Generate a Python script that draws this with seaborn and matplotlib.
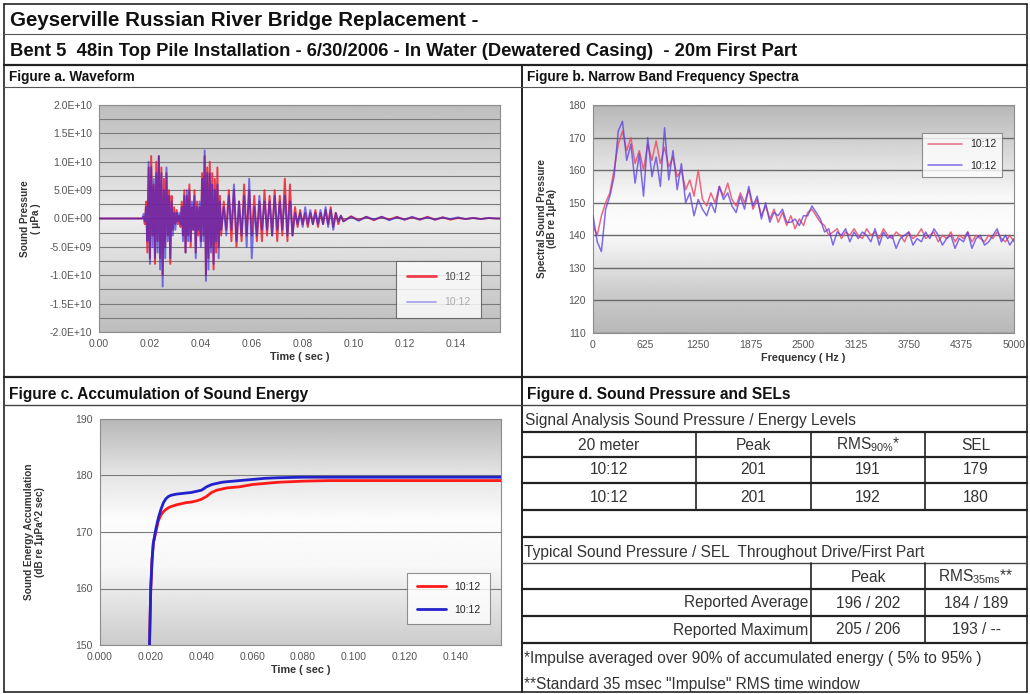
import numpy as np
import matplotlib
matplotlib.use('Agg')
import matplotlib.pyplot as plt
from matplotlib.lines import Line2D
from matplotlib.ticker import FixedLocator
import seaborn as sns

# --- Data -------------------------------------------------------------------
# Figure a: waveform (time in ms, pressure in 1e9 uPa)
WAVE_T_MS = [0.0, 15.0, 17.0, 17.5, 18.0, 18.5, 19.0, 19.5, 20.0, 20.5, 21.0, 21.5,
             22.0, 22.5, 23.0, 23.5, 24.0, 24.5, 25.0, 25.5, 26.0, 26.5, 27.0, 27.5,
             28.0, 28.5, 29.0, 29.5, 30.0, 30.5, 31.0, 31.5, 32.0, 32.5, 33.0, 33.5,
             34.0, 34.5, 35.0, 35.5, 36.0, 36.5, 37.0, 37.5, 38.0, 38.5, 39.0, 39.5,
             40.0, 40.5, 41.0, 41.5, 42.0, 42.5, 43.0, 43.5, 44.0, 44.5, 45.0, 45.5,
             46.0, 46.5, 47.0, 47.5, 48.0, 49.0, 50.0, 51.0, 52.0, 53.0, 54.0, 55.0,
             56.0, 57.0, 58.0, 59.0, 60.0, 61.0, 62.0, 63.0, 64.0, 65.0, 66.0, 67.0,
             68.0, 69.0, 70.0, 71.0, 72.0, 73.0, 74.0, 75.0, 76.0, 77.0, 78.0, 79.0,
             80.0, 81.0, 82.0, 83.0, 84.0, 85.0, 86.0, 87.0, 88.0, 89.0, 90.0, 91.0,
             92.0, 93.0, 94.0, 95.0, 96.0, 99.0, 102.0, 105.0, 108.0, 111.0, 114.0,
             117.0, 120.0, 123.0, 126.0, 129.0, 132.0, 135.0, 138.0, 141.0, 144.0,
             147.0, 150.0, 153.0, 156.0, 158.0]
WAVE_RED = [0, 0, 0, 0.3, -1, 3, -6, 9, -7, 11, -3, 6,
            -8, 10, -4, 11, -7, 9, -10, 7, -5, 8, -3, 5,
            -8, 4, -2, 2, -1, 1.5, -1, 0.5, -1.5, 3, -3, 5,
            -6, 4, -3, 6, -5, 2, -2, 5, -6, 3, -3, 2,
            -4, 8, -3, 11, -10, 9, -7, 10, -5, 8, -9, 7,
            -6, 9, -5, 4, -3, 3, -2, 5, -4, 5, -5, 3,
            -4, 6, -3, 5, -3, 4, -4, 3, -4, 5, -3, 4,
            -3, 5, -4, 4, -3, 7, -4, 6, -3, 2, -1.5, 1.5,
            -1, 1, -1.5, 1, -1, 1.5, -1.5, 1, -1, 1.5, -1, 2,
            -1.5, 1, -1, 0.5, -0.5, 0.4, -0.3, 0.3, -0.3, 0.3, -0.2,
            0.3, -0.2, 0.2, -0.2, 0.3, -0.2, 0.2, -0.2, 0.1, -0.1,
            0.1, -0.1, 0.1, 0, 0]
WAVE_BLUE = [0, 0, 0, 0.8, -0.5, 2, -4, 10, -8, 9, -5, 7,
             -7, 8, -6, 11, -9, 8, -12, 5, -7, 9, -4, 4,
             -7, 3, -3, 1, -2, 1, -0.5, 1, -1, 2, -4, 4,
             -6, 5, -4, 5, -4, 3, -2, 4, -7, 2, -2, 3,
             -5, 7, -4, 12, -11, 8, -9, 8, -6, 6, -8, 5,
             -4, 6, -7, 3, -2, 2, -3, 4, -2, 6, -4, 3,
             -3, 4, -5, 7, -7, 2, -3, 4, -2, 3, -2, 3,
             -3, 4, -2, 3, -2, 4, -3, 3, -3, 1, -1, 1,
             -1.5, 2, -1, 1.5, -1, 1, -1, 1.5, -1, 2, -1.5, 1.5,
             -2, 1, -0.5, 0.5, -0.5, 0.3, -0.4, 0.3, -0.2, 0.3, -0.3,
             0.2, -0.2, 0.3, -0.2, 0.2, -0.2, 0.2, -0.1, 0.2, -0.1,
             0.1, -0.1, 0.1, 0, 0]

# Figure b: narrow band spectra (Hz, dB re 1uPa)
FREQ_HZ = [0, 50, 100, 150, 200, 250, 300, 350, 400, 450, 500, 550, 600, 650,
           700, 750, 800, 850, 900, 950, 1000, 1050, 1100, 1150, 1200, 1250,
           1300, 1350, 1400, 1450, 1500, 1550, 1600, 1650, 1700, 1750, 1800,
           1850, 1900, 1950, 2000, 2050, 2100, 2150, 2200, 2250, 2300, 2350,
           2400, 2450, 2500, 2550, 2600, 2650, 2700, 2750, 2800, 2850, 2900,
           2950, 3000, 3050, 3100, 3150, 3200, 3250, 3300, 3350, 3400, 3450,
           3500, 3550, 3600, 3650, 3700, 3750, 3800, 3850, 3900, 3950, 4000,
           4050, 4100, 4150, 4200, 4250, 4300, 4350, 4400, 4450, 4500, 4550,
           4600, 4650, 4700, 4750, 4800, 4850, 4900, 4950, 5000]
SPEC_RED = [143, 140, 146, 150, 153, 160, 168, 172, 166, 170, 162, 166, 160, 168,
            163, 169, 162, 167, 161, 164, 158, 160, 154, 157, 152, 160,
            151, 149, 153, 150, 155, 152, 156, 151, 149, 153, 150,
            154, 148, 151, 146, 149, 145, 148, 144, 147, 143, 146,
            142, 145, 143, 147, 148, 146, 144, 143, 140, 141, 142,
            139, 141, 140, 142, 140, 139, 142, 140, 141, 139, 142,
            140, 139, 141, 140, 138, 141, 139, 140, 142, 139, 140,
            141, 138, 140, 139, 141, 138, 140, 139, 141, 138, 140,
            139, 138, 140, 139, 141, 139, 138, 140, 138]
SPEC_BLUE = [146, 138, 135, 148, 152, 158, 172, 175, 163, 168, 156, 165, 152, 170,
             158, 164, 155, 173, 157, 166, 154, 162, 150, 153, 146, 151,
             148, 146, 150, 147, 155, 151, 153, 149, 147, 152, 148,
             155, 149, 152, 145, 150, 144, 147, 146, 148, 144, 144,
             145, 143, 146, 146, 149, 147, 145, 141, 142, 137, 141,
             140, 142, 138, 141, 139, 141, 140, 138, 142, 137, 141,
             139, 140, 136, 139, 140, 141, 137, 139, 138, 141, 139,
             142, 140, 137, 139, 140, 136, 139, 138, 141, 136, 139,
             140, 137, 138, 140, 142, 138, 140, 137, 139]

# Figure c: accumulated sound energy (s, dB re 1uPa^2 sec)
ACC_T = [0.0190, 0.0195, 0.0200, 0.0205, 0.0210, 0.0220, 0.0230, 0.0240, 0.0250,
         0.0260, 0.0270, 0.0280, 0.0300, 0.0320, 0.0340, 0.0360, 0.0380, 0.0400,
         0.0420, 0.0440, 0.0460, 0.0480, 0.0500, 0.0550, 0.0600, 0.0650, 0.0700,
         0.0800, 0.0900, 0.1000, 0.1200, 0.1400, 0.1580]
ACC_RED = [140, 150, 160, 165, 168, 170, 172, 173, 173.6, 174.0, 174.3, 174.5,
           174.8, 175.0, 175.2, 175.3, 175.5, 175.8, 176.3, 177.0, 177.4, 177.6,
           177.8, 178.0, 178.4, 178.6, 178.8, 179.0, 179.1, 179.1, 179.1, 179.1, 179.1]
ACC_BLUE = [140, 150, 160, 165, 168, 170.5, 172.5, 174.0, 175.2, 175.9, 176.3, 176.5,
            176.7, 176.8, 176.9, 177.0, 177.2, 177.4, 178.0, 178.4, 178.6, 178.8,
            178.9, 179.1, 179.3, 179.5, 179.6, 179.7, 179.7, 179.7, 179.7, 179.7, 179.7]

SERIES_LABELS = ['10:12', '10:12']

# Figure d: tables
TABLE1_HEAD = ['20 meter', 'Peak', r'RMS$_{\mathregular{90\%}}$*', 'SEL']
TABLE1_ROWS = [['10:12', '201', '191', '179'],
               ['10:12', '201', '192', '180']]
TABLE2_HEAD = ['', '', 'Peak', r'RMS$_{\mathregular{35ms}}$**']
TABLE2_ROWS = [['Reported Average', '196 / 202', '184 / 189'],
               ['Reported Maximum', '205 / 206', '193 / --']]

# --- Style ------------------------------------------------------------------
sns.set_style('white')
plt.rcParams['font.family'] = ['Liberation Sans', 'DejaVu Sans']
plt.rcParams['mathtext.fontset'] = 'custom'
plt.rcParams['mathtext.rm'] = 'Liberation Sans'

W, H = 1030, 694
RED = '#ee1f2e'
BLUE = '#2a22dd'
TXT = '#333333'
TAB_FS = 11.2


def fx(px):
    return px / W


def fy(py):
    return 1 - py / H


def ax_rect(x0, y0, x1, y1):
    return [fx(x0), fy(y1), (x1 - x0) / W, (y1 - y0) / H]


def gradient_bg(ax, stops, xlim, ylim):
    pos = np.linspace(0, 1, 256)
    g = np.interp(pos, [s[0] for s in stops], [s[1] for s in stops])
    ax.imshow(g[:, None], extent=[xlim[0], xlim[1], ylim[0], ylim[1]], origin='lower',
              aspect='auto', cmap='gray', vmin=0, vmax=1, zorder=0)
    ax.set_xlim(*xlim)
    ax.set_ylim(*ylim)


def style_axes(ax, xlabel, ylabel, ylpad=4):
    for sp in ax.spines.values():
        sp.set_color('#8c8c8c')
        sp.set_linewidth(0.8)
    ax.tick_params(axis='both', labelsize=7.5, colors='#555555', length=3,
                   width=0.6, direction='out', pad=2)
    ax.set_xlabel(xlabel, fontsize=7.8, fontweight='bold', color='#333333', labelpad=2)
    ax.set_ylabel(ylabel, fontsize=7.2, fontweight='bold', color='#333333',
                  labelpad=ylpad, linespacing=1.1)


fig = plt.figure(figsize=(W / 100, H / 100), dpi=100)
fig.patch.set_facecolor('white')

# --- Figure a -----------------------------------------------------------------
ax_a = fig.add_axes(ax_rect(99, 105, 500, 332))
t_a = [t / 1000 for t in WAVE_T_MS]
sns.lineplot(x=t_a, y=[v * 1e9 for v in WAVE_RED], ax=ax_a, color=RED, lw=1.4,
             alpha=0.85, label=SERIES_LABELS[0], zorder=3)
sns.lineplot(x=t_a, y=[v * 1e9 for v in WAVE_BLUE], ax=ax_a, color=BLUE, lw=1.4,
             alpha=0.6, label=SERIES_LABELS[1], zorder=4)
gradient_bg(ax_a, [(0, 0.74), (0.5, 0.93), (1, 0.74)], (0, 0.1575), (-2e10, 2e10))
ax_a.set_yticks(np.arange(-2e10, 2.01e10, 5e9))
ax_a.yaxis.set_minor_locator(FixedLocator(np.arange(-2e10, 2.01e10, 2.5e9)))
ax_a.set_yticklabels(['-2.0E+10', '-1.5E+10', '-1.0E+10', '-5.0E+09', '0.0E+00',
                      '5.0E+09', '1.0E+10', '1.5E+10', '2.0E+10'])
ax_a.set_xticks([0, 0.02, 0.04, 0.06, 0.08, 0.10, 0.12, 0.14])
ax_a.set_xticklabels(['0.00', '0.02', '0.04', '0.06', '0.08', '0.10', '0.12', '0.14'])
ax_a.grid(True, which='both', axis='y', color='#7a7a7a', lw=0.8, zorder=1)
ax_a.set_axisbelow(True)
style_axes(ax_a, 'Time ( sec )', 'Sound Pressure\n( \u03bcPa )', ylpad=6)
leg = ax_a.legend(loc='lower right', bbox_to_anchor=(0.965, 0.04), fontsize=7.5,
                  frameon=True, fancybox=False, edgecolor='#555555', handlelength=2.8,
                  borderpad=1.0, labelspacing=1.5)
leg.get_frame().set_linewidth(0.8)
leg.get_lines()[0].set_linewidth(2.0)
leg.get_lines()[1].set_alpha(0.35)
leg.get_texts()[0].set_color('#444444')
leg.get_texts()[1].set_color('#aaaaaa')

# --- Figure b -----------------------------------------------------------------
ax_b = fig.add_axes(ax_rect(593, 105, 1014, 333))
sns.lineplot(x=FREQ_HZ, y=SPEC_RED, ax=ax_b, color='#e8506a', lw=1.1, alpha=0.85,
             label=SERIES_LABELS[0], zorder=3)
sns.lineplot(x=FREQ_HZ, y=SPEC_BLUE, ax=ax_b, color='#5a3ce0', lw=1.1, alpha=0.75,
             label=SERIES_LABELS[1], zorder=4)
gradient_bg(ax_b, [(0, 0.72), (0.18, 0.80), (0.45, 0.99), (0.6, 0.97), (1, 0.72)],
            (0, 5000), (110, 180))
ax_b.set_yticks(range(110, 181, 10))
ax_b.set_xticks([0, 625, 1250, 1875, 2500, 3125, 3750, 4375, 5000])
ax_b.grid(True, axis='y', color='#6a6a6a', lw=1.0, zorder=1)
ax_b.set_axisbelow(True)
style_axes(ax_b, 'Frequency ( Hz )', 'Spectral Sound Pressure\n(dB re 1\u03bcPa)', ylpad=8)
leg = ax_b.legend(loc='upper right', bbox_to_anchor=(0.985, 0.90), fontsize=7.5,
                  frameon=True, fancybox=False, edgecolor='#777777', handlelength=3.2,
                  borderpad=0.6, labelspacing=1.1)
leg.get_frame().set_linewidth(0.8)

# --- Figure c -----------------------------------------------------------------
ax_c = fig.add_axes(ax_rect(100, 419, 501, 645))
sns.lineplot(x=ACC_T, y=ACC_RED, ax=ax_c, color='#ff1a1a', lw=2.0,
             label=SERIES_LABELS[0], zorder=3)
sns.lineplot(x=ACC_T, y=ACC_BLUE, ax=ax_c, color='#2222cc', lw=2.0,
             label=SERIES_LABELS[1], zorder=4)
gradient_bg(ax_c, [(0, 0.80), (0.35, 0.97), (0.55, 0.99), (0.75, 0.90), (1, 0.72)],
            (0, 0.158), (150, 190))
ax_c.set_yticks(range(150, 191, 10))
ax_c.set_xticks([0, 0.02, 0.04, 0.06, 0.08, 0.10, 0.12, 0.14])
ax_c.set_xticklabels(['0.000', '0.020', '0.040', '0.060', '0.080', '0.100', '0.120',
                      '0.140'])
ax_c.grid(True, axis='y', color='#7a7a7a', lw=0.8, zorder=1)
ax_c.set_axisbelow(True)
style_axes(ax_c, 'Time ( sec )', 'Sound Energy Accumulation\n(dB re 1\u03bcPa^2 sec)',
           ylpad=22)
leg = ax_c.legend(loc='lower right', bbox_to_anchor=(0.985, 0.07), fontsize=7.5,
                  frameon=True, fancybox=False, edgecolor='#777777', handlelength=2.8,
                  borderpad=0.9, labelspacing=1.2)
leg.get_frame().set_linewidth(0.8)


# --- Frame lines and headings -----------------------------------------------
def hrule(y, x0=4, x1=1027, lw=1.0, color='#222222'):
    fig.add_artist(Line2D([fx(x0), fx(x1)], [fy(y), fy(y)], transform=fig.transFigure,
                          lw=lw, color=color))


def vrule(x, y0, y1, lw=1.0, color='#222222'):
    fig.add_artist(Line2D([fx(x), fx(x)], [fy(y0), fy(y1)], transform=fig.transFigure,
                          lw=lw, color=color))


def label(x, y, s, size=TAB_FS, weight='normal', ha='left', color=TXT):
    fig.text(fx(x), fy(y), s, fontsize=size, fontweight=weight, ha=ha, va='center',
             color=color)


# outer box
hrule(4, lw=1.2)
hrule(692, lw=1.2)
vrule(4, 4, 692, lw=1.2)
vrule(1027, 4, 692, lw=1.2)

label(10, 20, 'Geyserville Russian River Bridge Replacement -', 14.8, 'bold',
      color='#111111')
hrule(34, lw=0.8, color='#555555')
label(10, 51, 'Bent 5  48in Top Pile Installation - 6/30/2006 - In Water (Dewatered Casing)  - 20m First Part',
      13.2, 'bold', color='#111111')
hrule(65, lw=1.6)
vrule(522, 65, 692, lw=1.4)
label(9, 77, 'Figure a. Waveform', 9.8, 'bold', color='#111111')
label(527, 77, 'Figure b. Narrow Band Frequency Spectra', 9.8, 'bold', color='#111111')
hrule(87, lw=0.8, color='#555555')
hrule(377, lw=1.6)
label(9, 394, 'Figure c. Accumulation of Sound Energy', 11.2, 'bold', color='#111111')
label(527, 394, 'Figure d. Sound Pressure and SELs', 11.2, 'bold', color='#111111')
hrule(405, lw=1.0, color='#444444')

# --- Figure d tables ------------------------------------------------------------
label(525, 421, 'Signal Analysis Sound Pressure / Energy Levels')
col_x = [609, 753, 868, 976]
for y in (432, 457, 483, 510):
    hrule(y, 522, 1027, lw=1.6)
for x in (696, 811, 925):
    vrule(x, 432, 510, lw=1.2)
for cx, s in zip(col_x, TABLE1_HEAD):
    label(cx, 445, s, ha='center')
for ry, row in zip((470, 497), TABLE1_ROWS):
    for cx, s in zip(col_x, row):
        label(cx, ry, s, ha='center')

hrule(537, 522, 1027, lw=1.6)
label(524, 553, 'Typical Sound Pressure / SEL  Throughout Drive/First Part')
hrule(563, 522, 1027, lw=1.0, color='#444444')
for x in (811, 925):
    vrule(x, 563, 643, lw=1.2)
for cx, s in zip(col_x[2:], TABLE2_HEAD[2:]):
    label(cx, 577, s, ha='center')
for y in (589, 616, 643):
    hrule(y, 522, 1027, lw=1.6)
for ry, row in zip((603, 630), TABLE2_ROWS):
    label(808, ry, row[0], ha='right')
    label(col_x[2], ry, row[1], ha='center')
    label(col_x[3], ry, row[2], ha='center')

label(524, 658, '*Impulse averaged over 90% of accumulated energy ( 5% to 95% )')
label(524, 684, '**Standard 35 msec "Impulse" RMS time window')

fig.savefig('out.png', dpi=100)
